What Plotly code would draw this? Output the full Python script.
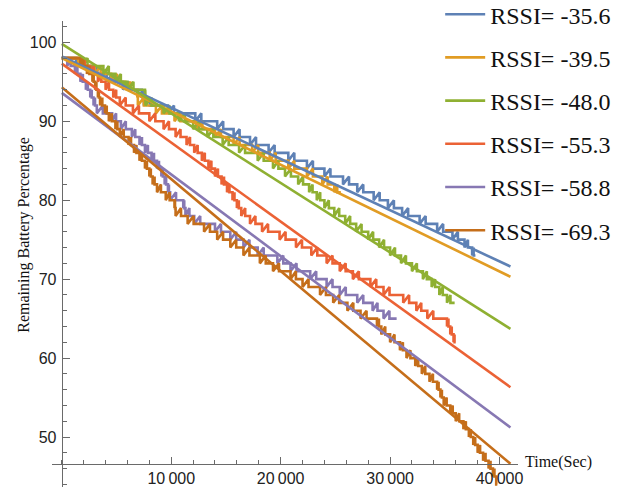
import plotly.graph_objects as go

# ---------------- data ----------------
labels = ["RSSI= -35.6", "RSSI= -39.5", "RSSI= -48.0",
          "RSSI= -55.3", "RSSI= -58.8", "RSSI= -69.3"]
colors = ["#5E81B5", "#E19C24", "#8FB032", "#EB6235", "#8778B3", "#C56E1A"]

start_level = [98, 98, 98, 98, 98, 98]

# times (s) at which the battery reading drops by one percent
blue_drops = [1300, 2700, 4100, 5600, 7300, 7500, 9700, 12200, 14200, 15700,
              17200, 18900, 20700, 22400, 24000, 25700, 27000, 28500, 29800,
              31100, 32700, 34300, 35700, 36800, 37500]
orange_drops = [1500, 3000, 4500, 5800, 6900, 6950, 8600, 10300, 12300, 14000,
                15700, 17400, 19000, 20700, 22400, 23800, 24900]
green_drops = [1800, 3800, 4900, 6000, 7600, 7650, 9300, 10700, 12000, 13300,
               14700, 16200, 17900, 19300, 20400, 21600, 22600, 23300, 24000,
               24900, 25900, 26900, 28000, 29000, 30000, 31000, 32000, 33000,
               33800, 34500, 35200]
red_drops = [1700, 2600, 3300, 4000, 4700, 5300, 6500, 8000, 9300, 10400,
             11400, 12100, 12800, 13400, 14000, 14600, 15100, 15600, 16000,
             16400, 17200, 18300, 19900, 21400, 22800, 24200, 25400, 26600,
             28200, 29400, 31200, 32400, 33400, 35200, 35500, 35800]
purple_drops = [500, 1200, 1700, 2200, 2600, 2900, 3200, 4600, 5400, 6400,
                7100, 7600, 8200, 8700, 9100, 9400, 9700, 9900, 11100, 11300,
                12100, 14000, 15400, 16600, 17900, 19700, 20900, 22700, 24200,
                25400, 27000, 28400, 29400]
brown_drops = [1700, 2300, 2800, 3050, 3300, 3500, 3950, 4300, 4900, 5300,
               6100, 6600, 7100, 7600, 8000, 8300, 8700, 9500, 10300, 10400,
               11500, 13000, 14200, 15400, 16600, 18100, 19300, 20900, 22000,
               23600, 24800, 26100, 27300, 28800, 29200, 30000, 30900, 31500,
               32300, 32900, 33600, 34300, 34600, 34900, 35500, 36000, 36700,
               37200, 37600, 38000, 38500, 39000, 39400, 39700]
drops = [blue_drops, orange_drops, green_drops, red_drops, purple_drops, brown_drops]
end_time = [37800, 25500, 35900, 36000, 30600, 39800]

# linear fits: value at t = 0 and at t = 41000
trend_t = [0, 41000]
trend_vals = [[98.2, 71.6], [98.0, 70.3], [99.8, 63.7],
              [97.3, 56.3], [93.6, 51.2], [94.3, 46.6]]

x_ticks = [10000, 20000, 30000, 40000]
x_tick_text = ["10\u2009000", "20\u2009000", "30\u2009000", "40\u2009000"]
y_ticks = [50, 60, 70, 80, 90, 100]

# ---------------- figure ----------------
FLICK = 550  # width of the reading flicker drawn at each step


def stair(start, dl, end):
    xs, ys = [0], [start]
    v = start
    times = dl + [end]
    for i, t in enumerate(dl):
        d = min(FLICK, 0.45 * (times[i + 1] - t))
        xs += [t, t, t + d, t + d]
        ys += [v, v - 1, v, v - 1]
        v -= 1
    xs.append(end)
    ys.append(v)
    return xs, ys


fig = go.Figure()
for i in range(6):
    xs, ys = stair(start_level[i], drops[i], end_time[i])
    fig.add_trace(go.Scatter(x=xs, y=ys, mode="lines", name=labels[i],
                             legendgroup=labels[i],
                             line=dict(color=colors[i], width=2.6)))
for i in range(6):
    fig.add_trace(go.Scatter(x=trend_t, y=trend_vals[i], mode="lines",
                             legendgroup=labels[i], showlegend=False,
                             line=dict(color=colors[i], width=2.6)))

XR = [-895, 41690]
YR = [43.67, 102.7]
axis_col = "#6a6a6a"
tick_font = dict(family="Liberation Sans, Arial, sans-serif", size=16, color="#222")

fig.update_layout(
    width=628, height=492,
    margin=dict(l=52, r=110, t=21, b=5, autoexpand=False),
    plot_bgcolor="white", paper_bgcolor="white",
    showlegend=True,
    legend=dict(x=0.833, y=1.062, xanchor="left", yanchor="top",
                font=dict(family="Liberation Serif, Times New Roman, serif",
                          size=24, color="#111"),
                traceorder="grouped", tracegroupgap=9, itemwidth=40,
                maxheight=480, bgcolor="rgba(0,0,0,0)"),
    xaxis=dict(range=XR, showgrid=False, zeroline=False, showline=True,
               linecolor=axis_col, linewidth=1.2, anchor="free",
               position=(46.6 - YR[0]) / (YR[1] - YR[0]),
               tickmode="array", tickvals=x_ticks, ticktext=x_tick_text,
               ticks="inside", ticklen=7, tickcolor=axis_col, tickwidth=1.2,
               tickfont=tick_font,
               minor=dict(tickmode="linear", tick0=0, dtick=2000, ticks="inside",
                          ticklen=4, tickcolor=axis_col, tickwidth=1.2)),
    yaxis=dict(range=YR, showgrid=False, zeroline=False, showline=True,
               linecolor=axis_col, linewidth=1.2, anchor="free",
               position=(0 - XR[0]) / (XR[1] - XR[0]),
               tickmode="array", tickvals=y_ticks,
               ticks="inside", ticklen=7, tickcolor=axis_col, tickwidth=1.2,
               tickfont=tick_font, ticklabelstandoff=2,
               minor=dict(tickmode="linear", tick0=0, dtick=2, ticks="inside",
                          ticklen=4, tickcolor=axis_col, tickwidth=1.2)),
    annotations=[
        dict(text="Time(Sec)", xref="paper", yref="y", x=1, y=46.6,
             xanchor="left", yanchor="middle", xshift=5, yshift=2,
             showarrow=False,
             font=dict(family="Liberation Serif, Times New Roman, serif",
                       size=16, color="#111")),
        dict(text="Remaining Battery Percentage", xref="paper", yref="y",
             x=0, y=75.5, xanchor="center", yanchor="middle", xshift=-28,
             textangle=-90, showarrow=False,
             font=dict(family="Liberation Serif, Times New Roman, serif",
                       size=16, color="#111")),
    ],
)

# remove the page's default body margin so the figure fills the window
fig.write_html("out.html",
               config={"displayModeBar": False},
               post_script="document.body.style.margin='0';"
                           "document.body.style.padding='0';")
